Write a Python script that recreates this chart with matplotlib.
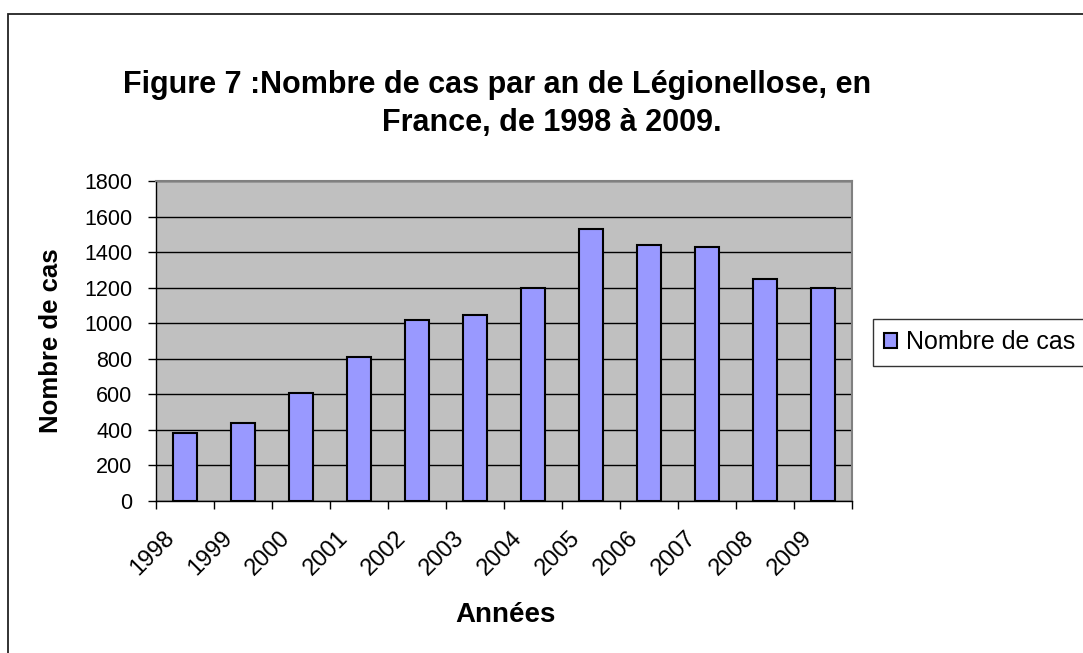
import numpy as np
import matplotlib.pyplot as plt
import matplotlib.transforms as mtransforms
from matplotlib.patches import Rectangle

plt.rcParams['font.family'] = ['Liberation Sans', 'DejaVu Sans']

# ---------------------------------------------------------------------
# Data
# ---------------------------------------------------------------------
years = ["1998", "1999", "2000", "2001", "2002", "2003",
         "2004", "2005", "2006", "2007", "2008", "2009"]
cases = [380, 440, 610, 810, 1020, 1045, 1200, 1530, 1440, 1430, 1250, 1200]
y_ticks = [0, 200, 400, 600, 800, 1000, 1200, 1400, 1600, 1800]

W, H = 1083, 653
fig = plt.figure(figsize=(W / 100, H / 100), dpi=100)
fig.patch.set_facecolor("white")

# outer chart border (runs off the right and bottom edges)
fig.patches.append(Rectangle((8 / W, -0.1), 1.2, 1 - 14 / H + 0.1,
                             transform=fig.transFigure, fill=False,
                             edgecolor="#222222", linewidth=1.3))

ax = fig.add_axes([156 / W, 1 - 501 / H, (852 - 156) / W, (501 - 181) / H])
ax.set_facecolor("#C0C0C0")

x = np.arange(len(years))
bars = ax.bar(x, cases, width=0.42, color="#9999FF", edgecolor="black",
              linewidth=1.5, label="Nombre de cas", zorder=3)

ax.set_xlim(-0.5, len(years) - 0.5)
ax.set_ylim(0, 1800)

# grid lines
ax.set_yticks(y_ticks)
ax.set_yticklabels([str(v) for v in y_ticks], fontsize=15.5)
ax.yaxis.grid(True, color="black", linewidth=1.0, zorder=1)
ax.set_axisbelow(True)
ax.tick_params(axis="y", direction="out", length=6, width=1, pad=11)

# x ticks at category boundaries, labels at centres
ax.set_xticks(np.arange(len(years) + 1) - 0.5)
ax.set_xticklabels([])
ax.tick_params(axis="x", which="major", direction="out", length=6, width=1)
ax.set_xticks(x, minor=True)
ax.set_xticklabels(years, minor=True, fontsize=17, rotation=45,
                   ha="right", va="center", rotation_mode="anchor")
ax.tick_params(axis="x", which="minor", length=0, pad=0)
offset = mtransforms.ScaledTranslation(-10 / 72, -24 / 72, fig.dpi_scale_trans)
for lab in ax.get_xticklabels(minor=True):
    lab.set_transform(lab.get_transform() + offset)

for side in ["top", "right"]:
    ax.spines[side].set_color("#808080")
    ax.spines[side].set_linewidth(1.5)
for side in ["left", "bottom"]:
    ax.spines[side].set_color("black")
    ax.spines[side].set_linewidth(1.0)

# title (two lines as in the original)
fig.text(497 / W, 1 - 85 / H, "Figure 7 :Nombre de cas par an de Légionellose, en",
         fontsize=22, fontweight="bold", ha="center", va="center")
fig.text(552 / W, 1 - 123 / H, "France, de 1998 à 2009.",
         fontsize=22, fontweight="bold", ha="center", va="center")

# axis labels
fig.text(51 / W, 1 - 341 / H, "Nombre de cas", fontsize=18.5, fontweight="bold",
         rotation=90, ha="center", va="center")
fig.text(506 / W, 1 - 615 / H, "Années", fontsize=20, fontweight="bold",
         ha="center", va="center")

# legend
leg = fig.legend(handles=[bars], labels=["Nombre de cas"], loc="upper left",
                 bbox_to_anchor=(873 / W, 1 - 319 / H), fontsize=18,
                 frameon=True, fancybox=False, shadow=False,
                 handlelength=0.52, handleheight=0.52, handletextpad=0.35,
                 borderpad=0.45, borderaxespad=0)
leg.get_frame().set_edgecolor("black")
leg.get_frame().set_linewidth(1.0)

fig.savefig("out.png", dpi=100)
